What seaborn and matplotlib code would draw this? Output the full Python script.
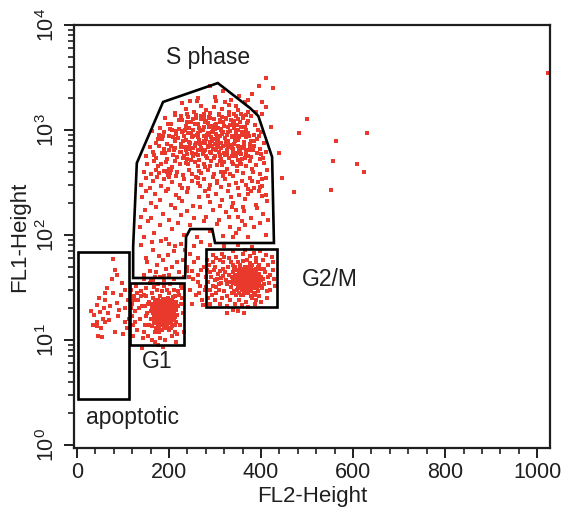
import matplotlib
matplotlib.use("Agg")
import matplotlib.pyplot as plt
from matplotlib.patches import Polygon
from matplotlib.ticker import MultipleLocator, LogLocator, NullFormatter
import pandas as pd
import seaborn as sns

# ---- events (FL2-Height channel, FL1-Height) grouped by gate ----
apoptotic_events = [
    (78, 59), (83, 46), (98, 35), (78, 28), (61, 24), (43, 21.5), (87, 22.5), (50, 18.5),
    (67, 18), (57, 16), (43, 15), (61, 14.7), (43, 13.5), (55, 10.8), (104, 20), (104, 14.7),
    (109, 13), (35, 14), (48, 25), (72, 21), (52, 13), (90, 17), (95, 27), (66, 31),
    (30, 19), (38, 17.5), (58, 20), (70, 15.5), (82, 12), (100, 11.5), (112, 16), (110, 24),
    (92, 19.5), (46, 11), (75, 38), (88, 42), (105, 30), (60, 28),
]

g1_events = [
    (165, 18), (170, 21), (175, 16), (180, 19.5), (185, 23), (190, 17), (195, 20.5), (200, 15),
    (205, 18.5), (210, 22), (168, 14.5), (173, 24), (178, 13), (183, 17.5), (188, 21), (193, 14),
    (198, 25), (203, 19), (208, 16.5), (213, 20), (163, 22), (167, 19.5), (172, 15.5), (177, 22.5),
    (182, 14), (187, 18), (192, 23.5), (197, 16), (202, 21.5), (207, 13.5), (212, 17), (216, 23),
    (161, 16), (166, 25), (171, 17.5), (176, 20), (181, 26), (186, 15), (191, 19), (196, 22),
    (201, 13), (206, 24), (211, 15.5), (215, 19.5), (164, 13.5), (169, 23), (174, 18.5), (179, 15),
    (184, 20.5), (189, 24.5), (194, 18), (199, 12.5), (204, 20), (209, 25.5), (214, 14), (162, 20),
    (167, 17), (172, 21), (177, 12.5), (182, 23.5), (187, 19.5), (192, 16.5), (197, 19), (202, 17),
    (207, 21), (212, 12), (218, 17.5), (170, 12), (180, 17), (190, 21.5), (200, 18), (210, 19),
    (175, 24), (185, 12.5), (195, 13.5), (205, 15), (160, 19), (220, 21), (178, 18), (188, 16),
    (198, 21), (208, 18), (183, 21), (193, 20), (203, 16), (173, 19.5), (213, 16.5), (168, 16),
    (196, 17.5), (186, 22), (176, 14), (206, 22.5), (191, 13), (181, 20), (201, 23), (171, 22),
    (211, 21.5), (216, 15), (166, 21), (194, 15.5), (184, 16), (204, 13), (174, 17), (189, 18.5),
    (199, 16), (179, 21.5),
    (178, 20), (183, 18.5), (188, 20), (193, 17), (198, 19.5), (173, 17.5), (185, 15.5), (195, 22),
    (175, 21.5), (190, 14.5), (180, 23), (200, 20), (170, 19), (187, 24), (205, 17.5), (182, 16.5),
    (192, 20.5), (177, 16.5), (197, 14.5), (186, 19), (172, 13), (202, 22), (189, 13.5), (179, 12),
    (194, 24), (168, 20.5), (208, 14), (184, 22.5), (174, 15), (199, 23.5),
    (118, 30), (120, 22), (122, 14), (119, 17), (124, 26), (121, 11), (126, 19), (128, 33),
    (130, 12.5), (133, 24), (136, 16), (138, 29), (141, 21), (143, 10.5), (146, 27), (148, 14),
    (150, 31), (152, 18), (155, 11), (157, 23), (159, 35), (162, 10), (164, 28), (167, 32),
    (170, 9.5), (174, 30), (177, 34), (181, 10.5), (185, 29), (188, 33), (192, 10), (196, 30),
    (200, 28), (203, 34), (207, 11), (211, 30), (214, 26), (218, 11.5), (221, 27), (224, 14),
    (226, 22), (228, 31), (231, 18), (233, 12), (229, 25), (225, 33), (219, 29), (157, 14),
    (154, 22), (151, 26), (149, 17), (147, 21), (145, 12), (140, 26), (135, 20), (131, 28),
    (127, 15), (123, 24), (117, 20), (160, 38), (180, 40), (200, 42), (190, 37), (172, 44),
    (210, 38), (145, 38), (215, 9.5), (187, 8.5), (175, 9), (166, 37), (141, 8.4),
]

s_events = [
    (290, 2600), (318, 2350), (352, 2100), (262, 2000), (335, 1950), (380, 2200), (300, 2050),
    (245, 1900), (372, 1920), (395, 2650), (228, 1820), (255, 1500), (270, 1700), (290, 1450),
    (302, 1880), (315, 1600), (330, 1750), (342, 1420), (350, 1550), (365, 1850), (372, 1480),
    (236, 1600), (281, 1560), (308, 1420), (322, 1830), (260, 1880), (345, 1700), (298, 1650),
    (388, 1500), (212, 1450), (275, 1420), (357, 1420),
    (180, 1050), (192, 1300), (205, 1150), (214, 1380), (221, 1020), (229, 1240), (236, 1100),
    (242, 1330), (248, 1180), (253, 1010), (259, 1290), (264, 1130), (270, 1370), (276, 1060),
    (281, 1210), (287, 1340), (292, 1090), (297, 1260), (303, 1150), (308, 1390), (313, 1030),
    (318, 1200), (323, 1310), (329, 1080), (334, 1240), (339, 1150), (345, 1360), (350, 1010),
    (355, 1190), (361, 1290), (366, 1070), (372, 1230), (379, 1350), (386, 1120), (393, 1000),
    (198, 1130), (226, 1370), (251, 1260), (266, 1040), (284, 1160), (300, 1020), (316, 1330),
    (331, 1390), (348, 1120), (368, 1380), (202, 1020), (239, 1200), (277, 1300), (310, 1250),
    (342, 1050),
    (222, 1250), (231, 980), (238, 1420), (244, 1050), (251, 880), (256, 1150), (263, 940),
    (269, 1280), (273, 1000), (278, 1180), (282, 890), (286, 1060), (290, 1300), (294, 950),
    (299, 1120), (304, 870), (307, 1040), (311, 1180), (315, 910), (319, 1090), (324, 1270),
    (328, 960), (332, 1110), (336, 880), (341, 1230), (346, 990), (351, 860), (356, 1080),
    (360, 1350), (364, 940), (369, 1160), (374, 870), (234, 1000), (258, 1380), (288, 1450),
    (331, 1470), (216, 980), (209, 860), (367, 1000), (384, 780), (350, 1260),
    (162, 980), (171, 760), (178, 890), (185, 820), (190, 950), (196, 730), (201, 870), (207, 990),
    (212, 780), (216, 910), (220, 840), (225, 740), (229, 960), (233, 880), (237, 800), (241, 930),
    (245, 760), (249, 850), (253, 990), (257, 720), (261, 900), (265, 810), (268, 970), (272, 750),
    (276, 880), (280, 830), (284, 940), (288, 770), (291, 860), (295, 990), (299, 730), (302, 920),
    (306, 810), (310, 870), (314, 760), (318, 950), (321, 840), (325, 900), (329, 780), (333, 980),
    (337, 860), (341, 740), (345, 920), (349, 800), (353, 880), (358, 960), (362, 770), (367, 850),
    (372, 930), (378, 790), (384, 900), (391, 830), (399, 960), (406, 760), (187, 880), (214, 820),
    (231, 780), (247, 940), (263, 860), (279, 760), (297, 830), (312, 990), (327, 720), (343, 860),
    (361, 900), (376, 740), (395, 880), (175, 820), (286, 900), (304, 770),
    (150, 560), (158, 690), (166, 620), (172, 540), (179, 700), (184, 600), (189, 660), (195, 530),
    (199, 640), (204, 710), (209, 580), (214, 670), (218, 550), (223, 620), (227, 700), (232, 570),
    (236, 650), (240, 530), (244, 690), (249, 610), (253, 560), (257, 700), (262, 640), (266, 520),
    (270, 680), (274, 590), (279, 650), (283, 540), (287, 710), (292, 600), (296, 660), (300, 560),
    (305, 690), (309, 620), (313, 530), (318, 700), (322, 580), (326, 650), (331, 540), (336, 680),
    (340, 610), (345, 560), (349, 700), (354, 630), (358, 530), (363, 670), (368, 590), (373, 640),
    (379, 550), (385, 700), (391, 600), (397, 660), (404, 540), (411, 620), (168, 580), (192, 600),
    (211, 640), (230, 540), (246, 660), (259, 590), (276, 630), (294, 700), (311, 580), (329, 690),
    (347, 600), (366, 540), (382, 650), (400, 590), (225, 690), (355, 690),
    (226, 620), (234, 690), (239, 590), (243, 770), (248, 520), (252, 680), (258, 760), (264, 580),
    (267, 730), (271, 640), (275, 790), (281, 560), (285, 690), (289, 620), (293, 780), (297, 540),
    (301, 650), (306, 740), (310, 560), (314, 680), (319, 610), (323, 770), (327, 590), (332, 720),
    (336, 560), (340, 660), (344, 790), (349, 520), (353, 660), (357, 590), (362, 720), (367, 640),
    (371, 560), (376, 700),
    (145, 400), (153, 470), (160, 380), (167, 510), (171, 420), (175, 450), (178, 390), (183, 480),
    (188, 410), (194, 500), (200, 380), (206, 440), (212, 510), (218, 400), (224, 470), (230, 370),
    (236, 490), (243, 420), (250, 380), (256, 500), (263, 450), (270, 390), (277, 480), (284, 420),
    (291, 510), (298, 380), (305, 460), (312, 400), (319, 500), (326, 430), (333, 380), (340, 470),
    (347, 410), (354, 500), (361, 390), (368, 450), (375, 510), (383, 400), (390, 460), (398, 380),
    (406, 490), (413, 420), (196, 400), (199, 430), (202, 390), (192, 410), (204, 415), (198, 375),
    (289, 450), (322, 400), (357, 470), (380, 430), (265, 410), (337, 500), (310, 510),
    (242, 470), (279, 440), (316, 460), (348, 450),
    (140, 300), (150, 350), (158, 280), (166, 330), (174, 360), (182, 290), (190, 340), (198, 275),
    (207, 320), (215, 365), (223, 300), (232, 345), (241, 280), (250, 330), (259, 360), (268, 295),
    (277, 340), (286, 275), (295, 355), (304, 310), (313, 285), (322, 345), (331, 300), (340, 365),
    (349, 280), (358, 330), (367, 300), (376, 350), (385, 280), (394, 320), (403, 290), (410, 350),
    (228, 280), (262, 310), (318, 365), (345, 310), (372, 275), (200, 360), (290, 300), (380, 325),
    (262, 350), (305, 330),
    (142, 230), (151, 260), (160, 200), (170, 245), (181, 215), (193, 265), (204, 195), (216, 240),
    (228, 210), (240, 255), (253, 190), (265, 230), (278, 260), (290, 205), (303, 245), (315, 215),
    (328, 265), (340, 200), (353, 240), (365, 220), (378, 260), (390, 195), (402, 235), (412, 210),
    (222, 225), (285, 235), (335, 230), (371, 245), (396, 265), (310, 190),
    (138, 150), (148, 175), (160, 145), (172, 185), (186, 160), (199, 140), (213, 180), (227, 155),
    (240, 170), (254, 145), (268, 185), (281, 150), (296, 175), (309, 140), (323, 165), (337, 185),
    (350, 150), (364, 170), (378, 145), (392, 180), (405, 160), (414, 140), (346, 175), (330, 150),
    (360, 185),
    (137, 120), (145, 95), (155, 135), (168, 105), (180, 125), (193, 92), (206, 115), (219, 130),
    (232, 100), (246, 125), (260, 95), (275, 135), (289, 110), (304, 128), (318, 98), (332, 120),
    (345, 105), (358, 135), (371, 95), (384, 118), (397, 130), (410, 100), (352, 115), (365, 125),
    (340, 95),
    (140, 80), (150, 60), (158, 45), (166, 72), (174, 52), (182, 88), (190, 41), (198, 65),
    (206, 50), (214, 78), (222, 44), (230, 58), (145, 42), (162, 85), (178, 63), (194, 47),
    (210, 70), (226, 82), (152, 55), (186, 58), (218, 55), (170, 40), (200, 82), (235, 72),
    (245, 66), (255, 78), (262, 60), (270, 85), (290, 80), (320, 78), (350, 80), (380, 77),
    (240, 50), (250, 45), (232, 40),
    (240, 45), (246, 30), (252, 38), (258, 27), (263, 42), (268, 33), (272, 24), (276, 50),
    (255, 55), (249, 22), (266, 28), (262, 36), (244, 40), (270, 46), (278, 30),
]

g2m_events = [
    (340, 35), (345, 40), (350, 32), (355, 44), (360, 37), (365, 30), (370, 42), (375, 35),
    (380, 39), (385, 31), (390, 45), (395, 36), (342, 29), (347, 46), (352, 38), (357, 33),
    (362, 48), (367, 40), (372, 31), (377, 44), (382, 36), (387, 27), (392, 39), (348, 42),
    (353, 28), (358, 40), (363, 35), (368, 46), (373, 38), (378, 29), (383, 42), (388, 34),
    (393, 50), (398, 33), (338, 44), (343, 37), (349, 31), (354, 48), (359, 30), (364, 42),
    (369, 34), (374, 50), (379, 33), (384, 46), (389, 38), (394, 29), (400, 40), (335, 32),
    (346, 34), (356, 36), (366, 38), (376, 40), (386, 37), (396, 43), (351, 45), (361, 41),
    (371, 36), (381, 34), (391, 32), (344, 50), (354, 39), (364, 33), (374, 45), (384, 39),
    (394, 47), (339, 38), (349, 36), (359, 43), (369, 37), (379, 47), (389, 42), (399, 37),
    (357, 38), (367, 35), (377, 37), (362, 39), (372, 41), (352, 35), (382, 40), (366, 43),
    (356, 31), (376, 32), (346, 38), (386, 44), (360, 34), (370, 39), (380, 36), (350, 41),
    (390, 35), (363, 37), (373, 34), (368, 32), (358, 45), (378, 43), (348, 30), (388, 48),
    (365, 50), (355, 52), (375, 54), (385, 28), (395, 26), (345, 27), (371, 28), (361, 27),
    (381, 25), (341, 47), (336, 40), (332, 36), (330, 42), (326, 34), (404, 38), (408, 44),
    (402, 31), (406, 48), (360, 56), (370, 58), (380, 52), (390, 55), (350, 55), (340, 52),
    (396, 52), (400, 47), (336, 28), (353, 24), (367, 23), (378, 26), (389, 24),
    (352, 37), (358, 34), (364, 40), (370, 36), (376, 41), (382, 33), (361, 31), (367, 44),
    (373, 30), (379, 38), (355, 41), (347, 36), (387, 40), (393, 37), (369, 48), (359, 47),
    (384, 35), (375, 29), (363, 29), (357, 42), (371, 33), (366, 36), (378, 35), (383, 44),
    (349, 39), (391, 41), (354, 34), (374, 43), (362, 45), (368, 39), (380, 31), (388, 36),
    (344, 42), (396, 39), (372, 46), (360, 32), (366, 28), (356, 27), (377, 49), (385, 38),
    (285, 36), (290, 30), (292, 40), (296, 33), (300, 37), (303, 28), (306, 43), (309, 34),
    (312, 39), (288, 44), (294, 27), (298, 46), (302, 32), (305, 38), (308, 30), (311, 45),
    (314, 35), (317, 41), (320, 29), (323, 37), (318, 48), (322, 44), (325, 26), (315, 25),
    (300, 24), (284, 25), (280, 32), (282, 46), (286, 52), (295, 55), (310, 58), (320, 62),
    (330, 60), (345, 62), (360, 66), (375, 63), (390, 61), (405, 58), (415, 52), (420, 42),
    (418, 35), (412, 29), (425, 46), (410, 64), (398, 70), (385, 68), (365, 72), (340, 70),
    (315, 66), (296, 64), (283, 58), (300, 50), (328, 50), (333, 24), (344, 22), (358, 21.5),
    (372, 20.5), (386, 22), (400, 23), (412, 25), (420, 30), (428, 38), (415, 40), (407, 34),
    (310, 22), (326, 21), (290, 22), (350, 19), (362, 18), (340, 19.5), (302, 60), (318, 55),
    (335, 55), (427, 55), (423, 62), (430, 33), (280, 40), (326, 18), (274, 21.5),
]

ungated_events = [
    (411, 3100), (426, 2500), (402, 1850), (411, 1660), (402, 1420), (422, 1060), (500, 1270),
    (483, 940), (630, 940), (563, 790), (557, 510), (609, 475), (624, 400), (472, 257),
    (552, 268), (1024, 3490), (398, 530), (402, 342), (398, 287), (411, 240), (440, 600),
    (445, 350),
]

# ---- gate outlines (FL2-Height, FL1-Height) ----
apoptotic_gate = [(2, 2.74), (113, 2.74), (113, 69), (2, 69)]
g1_gate = [(115, 9), (233, 9), (233, 35), (115, 35)]
g2m_gate = [(280, 20.6), (435, 20.6), (435, 73.5), (280, 73.5)]
s_gate = [(122, 39), (122, 77), (130, 485), (187, 1850), (306, 2800), (376, 1620),
          (394, 1360), (424, 553), (428, 84), (300, 84), (294, 114), (246, 114),
          (237, 96), (235, 39)]

gate_labels = ["S phase", "G2/M", "G1", "apoptotic"]
label_positions = [(285, 4950), (550, 38), (174, 6.2), (120, 1.82)]

x_ticks = [0, 200, 400, 600, 800, 1000]
y_ticks = [1, 10, 100, 1000, 10000]
y_tick_labels = [r"$10^{0}$", r"$10^{1}$", r"$10^{2}$", r"$10^{3}$", r"$10^{4}$"]

frames = []
for name, events in [("apoptotic", apoptotic_events), ("G1", g1_events),
                     ("S", s_events), ("G2/M", g2m_events), ("other", ungated_events)]:
    df = pd.DataFrame(events, columns=["FL2-Height", "FL1-Height"])
    df["gate"] = name
    frames.append(df)
events_df = pd.concat(frames, ignore_index=True)

sns.set_style("ticks")
plt.rcParams["font.family"] = ["Liberation Sans", "DejaVu Sans"]
plt.rcParams["mathtext.fontset"] = "custom"
plt.rcParams["mathtext.rm"] = "Liberation Sans"
plt.rcParams["mathtext.it"] = "Liberation Sans"

ink = "#1f1f1f"
dot_red = "#e9392c"

fig = plt.figure(figsize=(5.65, 5.18), dpi=100)
ax = fig.add_axes([0.131, 0.135, 0.8425, 0.8167])

sns.scatterplot(data=events_df, x="FL2-Height", y="FL1-Height", ax=ax,
                color=dot_red, marker="s", s=5.5, linewidth=0, legend=False, zorder=2)

ax.set_yscale("log")
ax.set_xlim(-6.5, 1028)
ax.set_ylim(0.936, 10000)

for gate in (apoptotic_gate, g1_gate, g2m_gate, s_gate):
    ax.add_patch(Polygon(gate, closed=True, fill=False, edgecolor="black",
                         linewidth=1.9, joinstyle="miter", zorder=3))

for text, (gx, gy) in zip(gate_labels, label_positions):
    ax.text(gx, gy, text, ha="center", va="center", fontsize=16.5, color=ink)

ax.set_xticks(x_ticks)
ax.set_xticklabels([str(t) for t in x_ticks])
ax.xaxis.set_minor_locator(MultipleLocator(40))
ax.set_yticks(y_ticks)
ax.set_yticklabels(y_tick_labels, rotation=90, va="center")
ax.yaxis.set_minor_locator(LogLocator(base=10, subs=range(2, 10)))
ax.yaxis.set_minor_formatter(NullFormatter())

ax.tick_params(which="major", direction="out", length=7, width=1.4, colors=ink,
               labelsize=15.5, pad=3)
ax.tick_params(which="minor", direction="out", length=4, width=1.2, colors=ink)
ax.tick_params(axis="y", which="major", pad=4)

for side in ("left", "bottom", "top", "right"):
    ax.spines[side].set_visible(True)
    ax.spines[side].set_linewidth(1.6)
    ax.spines[side].set_color(ink)

ax.set_xlabel("FL2-Height", fontsize=16, color=ink, labelpad=2)
ax.set_ylabel("FL1-Height", fontsize=16, color=ink, labelpad=4)

fig.savefig("out.png", dpi=100, facecolor="white")
